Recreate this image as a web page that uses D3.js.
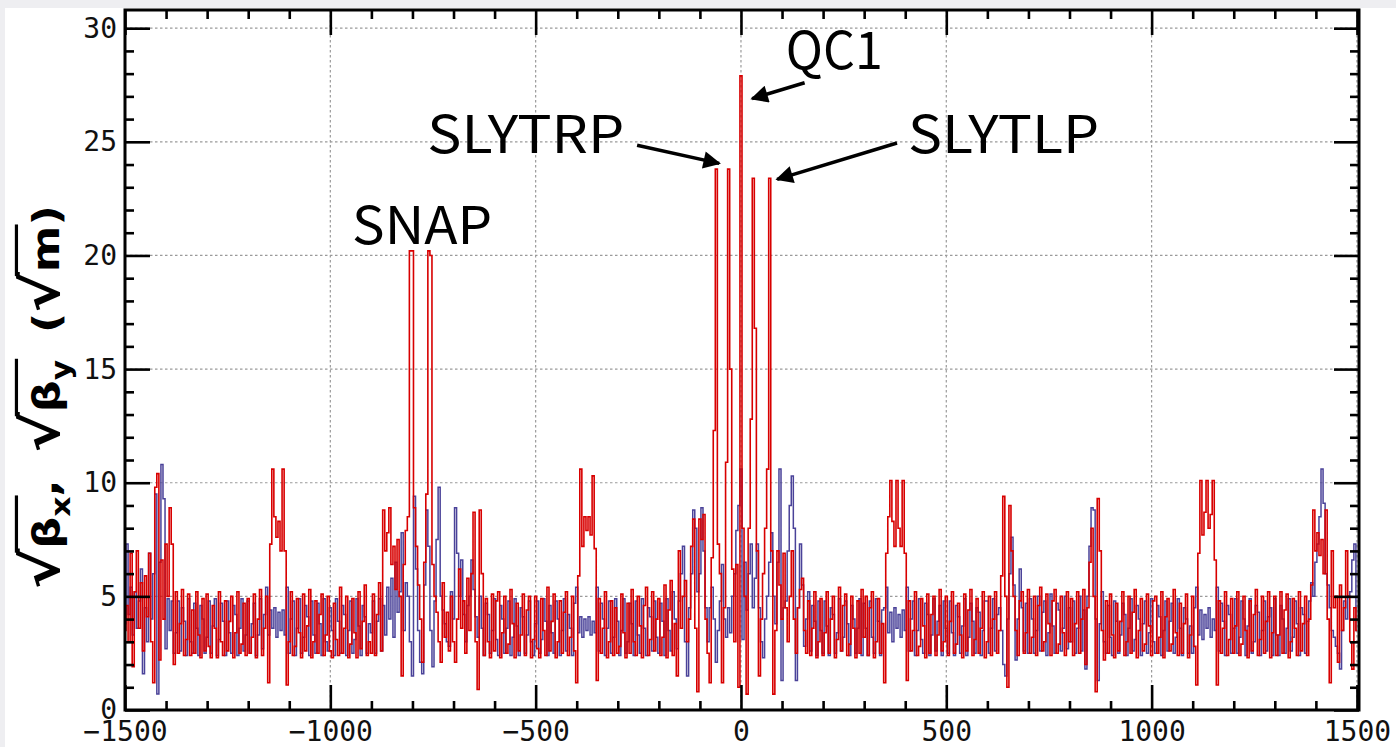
<!DOCTYPE html>
<html><head><meta charset="utf-8">
<script src="https://cdn.jsdelivr.net/npm/d3@7/dist/d3.min.js"></script>
<style>html,body{margin:0;padding:0;background:#fff;}svg{display:block;}</style>
</head><body>
<svg id="chart" width="1396" height="747"></svg>
<script>
// ---- data: sqrt(beta) sampled every 5 m from s = -1500 m to 1500 m ----
const sStart = -1500, sStep = 5;
const sqrtBetaY = [
 3.5,4.6,3.0,6.9,1.9,5.2,7.0,3.6,5.6,2.6,5.9,4.1,6.9,3.0,1.2,9.8,10.4,2.2,6.6,4.0,
 7.3,5.0,8.9,7.3,2.0,5.2,2.5,3.8,5.3,2.4,3.1,5.1,2.4,4.4,2.5,5.2,3.3,2.3,4.9,2.6,
 5.1,2.8,2.3,4.6,3.6,2.3,5.2,3.0,2.4,4.8,2.6,3.9,5.0,2.3,3.4,5.2,2.5,2.9,4.7,2.4,
 4.9,2.5,3.2,5.1,2.3,4.0,5.3,2.4,3.6,5.0,1.2,7.3,10.6,8.5,7.6,8.3,7.0,10.6,7.0,1.1,
 3.0,5.2,2.4,2.8,4.9,3.4,2.3,5.1,2.6,3.7,5.3,2.3,3.0,4.8,2.5,4.2,5.1,2.4,3.3,5.0,
 2.6,2.3,4.7,3.1,2.4,5.4,2.5,3.6,5.0,2.3,2.9,4.9,3.4,2.3,5.2,2.7,3.9,5.5,2.4,3.0,
 2.5,5.1,2.4,4.2,5.6,2.6,8.8,7.0,7.8,8.9,6.4,7.2,5.3,7.5,5.0,1.5,6.4,7.9,8.5,20.2,
 20.2,8.9,7.2,5.5,4.0,2.1,6.5,9.5,20.2,20.0,6.4,5.0,4.3,3.0,2.1,5.6,3.2,4.3,2.6,5.0,
 3.0,2.1,4.0,6.2,3.6,4.8,2.5,5.8,3.5,6.0,8.7,3.0,0.9,8.8,6.0,2.4,4.9,3.0,2.3,5.1,
 2.6,4.8,5.2,2.3,3.4,5.0,2.5,2.9,5.3,3.8,2.3,4.7,2.6,3.3,5.1,2.4,4.4,5.0,2.3,3.1,
 5.0,2.7,2.3,4.9,3.5,2.4,5.4,2.6,3.9,5.1,2.3,3.0,4.8,2.5,4.3,5.2,2.4,3.2,5.0,2.6,
 1.2,5.9,10.6,7.2,8.5,7.9,8.5,7.7,10.3,7.1,1.3,4.9,2.5,3.6,5.2,2.3,3.0,4.8,2.4,4.5,
 2.5,2.8,5.1,3.4,2.3,4.7,2.5,5.3,3.0,2.4,5.0,3.7,2.3,4.6,5.4,2.4,3.1,5.2,2.6,4.0,
 4.9,2.4,3.2,5.5,2.3,4.4,5.7,2.4,3.8,1.5,7.0,3.6,5.0,5.7,3.0,4.0,7.2,8.4,3.6,0.8,
 8.4,7.5,8.6,4.0,2.5,1.2,6.7,12.3,23.8,7.3,6.0,1.2,4.5,10.9,23.8,15.0,6.2,3.0,6.4,1.0,
 27.9,8.0,5.0,0.7,8.0,12.8,23.4,16.8,7.0,1.5,4.0,6.0,8.0,10.6,23.4,7.0,0.7,3.5,7.0,5.5,
 4.0,6.9,4.5,3.0,5.0,7.0,4.0,2.5,4.5,5.3,5.8,3.5,2.5,4.8,2.4,3.6,5.2,2.3,3.0,4.9,
 2.4,3.4,5.2,2.5,4.0,5.0,2.3,3.1,5.4,2.6,4.6,5.1,2.4,2.9,5.0,3.6,2.3,4.8,2.5,5.3,
 3.2,5.0,2.4,4.5,5.2,2.3,3.0,4.9,2.5,3.8,1.2,6.9,8.5,10.1,8.3,7.2,10.1,8.0,7.2,10.1,
 6.9,1.3,4.8,2.6,3.5,5.2,2.4,2.8,4.9,3.7,2.3,5.1,2.5,4.2,5.0,2.4,3.3,5.3,2.6,3.0,
 5.0,2.4,3.9,5.2,2.5,2.9,4.7,3.3,2.3,5.1,2.6,4.4,5.3,2.4,3.1,4.9,2.5,3.6,5.2,2.3,
 3.0,5.0,2.4,4.0,5.2,2.5,3.5,5.9,9.4,5.0,1.0,9.0,7.0,5.0,3.5,2.4,4.8,5.2,2.5,3.4,
 5.3,2.5,3.2,5.0,2.4,4.6,5.4,2.6,3.0,5.1,3.8,2.4,4.8,5.3,2.5,2.9,5.0,3.4,2.4,5.2,
 3.0,4.9,2.4,3.8,5.2,2.5,4.0,5.3,2.0,4.5,6.5,8.0,5.0,0.8,9.3,7.0,3.5,2.2,4.8,2.5,
 5.1,3.3,2.3,4.7,2.6,3.9,5.2,2.4,3.0,5.0,2.5,4.3,5.3,2.3,3.5,4.9,2.6,2.9,5.1,3.7,
 2.4,4.8,5.0,2.5,3.2,5.2,2.3,4.1,4.9,2.6,2.9,5.3,3.4,2.4,4.7,2.5,3.8,5.1,2.3,3.3,
 5.0,2.8,1.1,6.9,10.1,7.7,8.7,10.1,8.0,8.6,10.1,6.6,1.1,4.8,2.5,3.6,5.2,2.4,3.1,4.9,
 2.5,3.7,5.2,2.4,2.9,5.0,3.5,2.3,4.8,2.6,4.2,5.3,2.4,3.1,5.0,2.5,3.9,5.2,2.3,3.4,
 5.0,2.4,3.3,5.2,2.5,4.4,5.1,2.3,3.0,4.9,3.6,2.4,5.2,2.6,3.8,5.0,2.4,4.0,5.5,8.8,
 7.0,7.8,6.8,7.5,6.0,8.8,4.0,1.2,7.0,4.5,5.0,2.1,5.5,3.5,4.5,7.0,5.0,3.0,1.8,4.5,
 3.5
];
const sqrtBetaX = [
 3.8,7.3,4.2,5.4,3.3,5.2,3.6,4.8,6.2,1.6,4.5,3.0,6.9,4.0,6.0,9.5,0.7,6.5,10.8,9.3,
 2.7,4.9,3.5,4.8,2.5,3.4,4.8,2.6,4.5,3.9,2.4,4.9,3.0,2.5,4.7,3.6,2.4,4.6,4.0,2.5,
 3.2,4.8,2.5,3.7,4.9,2.4,3.1,4.7,3.9,2.4,4.8,3.4,2.5,4.6,4.2,2.4,3.6,4.9,2.6,3.3,
 4.8,2.5,3.8,4.7,2.4,3.3,4.9,2.7,4.2,5.4,3.3,4.4,3.6,4.5,3.2,4.3,3.5,4.4,3.3,5.4,
 2.5,4.0,4.8,2.4,3.6,4.9,2.5,3.2,4.6,4.1,2.4,4.8,3.3,2.5,4.7,3.8,2.4,4.9,3.0,2.6,
 4.5,3.5,2.4,4.9,3.9,2.5,4.6,4.2,2.4,3.5,4.8,2.5,3.1,4.9,3.7,2.4,4.6,4.1,2.5,3.8,
 3.4,4.8,2.5,3.9,4.9,2.6,4.6,3.3,5.4,4.0,5.8,3.2,6.5,4.3,5.2,7.8,3.5,5.6,5.0,3.0,
 1.5,9.4,6.2,3.5,2.1,1.6,5.5,8.8,7.2,3.5,1.9,4.8,7.5,9.8,5.0,4.4,3.8,3.0,2.8,5.2,
 4.0,8.9,6.9,5.0,6.6,4.2,3.0,4.6,5.0,6.6,5.3,4.1,3.2,5.0,3.6,2.4,4.7,4.2,2.5,3.5,
 4.9,3.1,2.4,4.6,4.0,2.5,3.6,4.8,2.4,3.2,4.9,3.7,2.4,4.5,4.1,2.5,3.3,4.8,3.0,2.4,
 3.8,4.8,2.5,3.1,4.9,3.9,2.4,4.6,3.4,2.5,4.8,4.0,2.4,3.5,4.9,2.6,4.2,3.6,2.4,4.7,
 5.4,3.4,4.1,3.2,4.0,3.5,4.1,3.3,3.9,3.4,5.4,2.6,4.7,4.0,2.4,3.6,4.8,2.5,3.2,4.9,
 3.9,2.4,3.5,4.9,2.5,3.0,4.7,3.8,2.4,4.8,3.3,2.5,4.9,3.6,2.4,4.5,4.1,2.6,4.8,3.2,
 2.5,4.7,3.9,2.4,4.9,3.5,2.6,5.2,4.0,2.7,4.8,6.0,7.2,3.0,1.5,4.5,6.0,8.8,8.0,5.2,
 6.0,8.9,7.0,4.5,3.0,4.5,5.4,4.0,2.1,3.5,4.8,6.4,4.0,3.2,4.5,3.4,5.0,6.0,7.9,9.0,
 10.6,3.1,6.5,4.4,6.0,7.3,4.5,5.8,7.3,4.5,3.0,2.3,4.0,5.0,6.5,7.8,5.0,3.8,6.5,10.6,
 1.3,4.5,4.8,7.0,9.0,10.3,8.0,1.3,4.5,7.3,5.5,2.8,4.0,5.2,2.6,4.6,3.9,2.4,4.8,3.5,
 2.5,4.8,3.7,2.4,4.5,4.2,2.5,3.4,4.9,2.6,3.2,4.8,3.8,2.4,4.6,4.0,2.5,3.6,4.9,2.4,
 4.7,3.6,2.4,4.8,3.2,2.5,4.9,3.9,2.4,4.4,4.5,5.4,3.4,4.3,3.0,4.5,3.6,4.2,3.2,4.4,
 3.5,5.4,2.6,4.0,4.8,2.4,3.5,4.9,3.1,2.5,4.7,4.2,2.4,3.3,4.9,2.6,3.9,4.6,2.4,4.8,
 3.6,2.5,4.8,3.4,2.4,4.6,4.1,2.5,3.7,4.9,2.4,3.2,4.7,3.9,2.5,4.5,4.3,2.4,3.5,4.8,
 4.8,2.5,3.6,4.9,2.6,4.2,4.5,3.5,2.0,1.5,4.0,6.0,7.6,5.5,2.2,4.0,6.2,4.5,2.6,4.7,
 2.5,4.9,4.0,2.5,3.5,5.0,2.6,4.3,4.8,2.4,3.4,5.1,3.7,2.5,4.7,4.4,2.6,3.6,5.0,2.7,
 4.5,3.0,4.8,2.5,3.6,5.0,2.6,4.4,1.8,5.0,7.2,8.9,8.8,4.0,1.3,3.8,5.2,3.0,2.5,4.6,
 3.2,2.4,4.8,3.9,2.5,3.3,4.7,4.2,2.4,3.6,4.9,2.6,3.1,4.6,4.0,2.4,3.8,4.8,2.5,3.4,
 4.9,3.0,2.5,4.6,4.1,2.4,3.5,4.8,2.6,3.9,4.7,2.5,3.2,4.9,3.6,2.4,4.5,4.0,2.5,3.7,
 2.5,4.5,5.4,3.3,4.4,3.1,4.2,3.6,4.5,3.2,4.0,3.5,5.4,2.6,4.7,3.9,2.4,4.6,4.2,2.5,
 3.6,4.9,2.5,3.2,4.8,4.0,2.4,3.7,4.9,2.5,3.0,4.6,4.3,2.4,3.5,4.8,2.6,4.1,4.5,2.4,
 4.9,3.3,2.4,4.6,4.0,2.5,3.6,4.9,2.6,3.2,4.8,3.8,2.4,4.5,4.2,2.5,3.9,4.8,5.6,5.0,
 6.5,7.3,8.5,10.6,9.1,6.0,5.5,4.5,3.5,3.2,2.8,2.5,1.8,3.5,4.8,4.0,5.0,5.2,6.6,7.3,
 3.5
];
const xMajorTicks = [-1500, -1000, -500, 0, 500, 1000, 1500];
const yMajorTicks = [0, 5, 10, 15, 20, 25, 30];
const xMinorTicks = [-1400,-1300,-1200,-1100,-900,-800,-700,-600,-400,-300,-200,-100,100,200,300,400,600,700,800,900,1100,1200,1300,1400];
const yMinorTicks = [1,2,3,4,6,7,8,9,11,12,13,14,16,17,18,19,21,22,23,24,26,27,28,29];
// annotations: label at (s, value) with its drawn width; arrows from (s0,v0) to (s1,v1)
const labels = [
  {text: "QC1",    s: 109,   v: 28.2, w: 97},
  {text: "SLYTRP", s: -764,  v: 24.5, w: 197},
  {text: "SLYTLP", s: 407,   v: 24.5, w: 191},
  {text: "SNAP",   s: -947,  v: 20.5, w: 140}
];
const arrows = [
  {s0: 155,  v0: 27.6, s1: 27,  v1: 26.9},
  {s0: -253, v0: 24.85, s1: -53, v1: 24.05},
  {s0: 380,  v0: 24.95, s1: 88,  v1: 23.35}
];

// ---- layout ----
const svg = d3.select("#chart");
const L = 125, R = 1359, T = 10, B = 710;
const x = d3.scaleLinear().domain([-1500, 1505]).range([L, R]);
const y = d3.scaleLinear().domain([0, 30.8]).range([B, T]);

svg.append("rect").attr("width",1396).attr("height",747).attr("fill","#eeeef1");
svg.append("rect").attr("x",5).attr("y",8).attr("width",1391).attr("height",739).attr("fill","#fff");

svg.append("defs").append("clipPath").attr("id","clip")
  .append("rect").attr("x",L).attr("y",T).attr("width",R-L).attr("height",B-T);

// grid
const grid = svg.append("g").attr("stroke","#9a9a9a").attr("stroke-width",1.2).attr("stroke-dasharray","2.5,2.5");
grid.selectAll("line.gx").data(xMajorTicks).join("line").attr("class","gx")
  .attr("x1",d=>x(d)).attr("x2",d=>x(d)).attr("y1",T).attr("y2",B);
grid.selectAll("line.gy").data(yMajorTicks.filter(d=>d>0)).join("line").attr("class","gy")
  .attr("x1",L).attr("x2",R).attr("y1",d=>y(d)).attr("y2",d=>y(d));

// series
const line = d3.line().x((d,i)=>x(sStart + i*sStep)).y(d=>y(d)).curve(d3.curveStep);
const plot = svg.append("g").attr("clip-path","url(#clip)");
plot.append("path").datum(sqrtBetaX).attr("d",line).attr("fill","none")
  .attr("stroke","#4a4299").attr("stroke-width",1.5);
plot.append("path").datum(sqrtBetaY).attr("d",line).attr("fill","none")
  .attr("stroke","#d80000").attr("stroke-width",1.6);

// axes (inward ticks)
function styleAxis(g){ g.select(".domain").remove(); g.selectAll(".tick line").attr("stroke","#000").attr("stroke-width",2.6); }
const fontMono = "'DejaVu Sans Mono', monospace";
svg.append("g").attr("transform",`translate(0,${B})`)
  .call(d3.axisBottom(x).tickValues(xMajorTicks).tickSize(-25).tickPadding(11).tickFormat(d3.format("d")))
  .call(styleAxis).call(g=>g.selectAll("text").attr("font-family",fontMono).attr("font-size",28).attr("fill","#111"));
svg.append("g").attr("transform",`translate(0,${B})`)
  .call(d3.axisBottom(x).tickValues(xMinorTicks).tickSize(-9).tickFormat("")).call(styleAxis);
svg.append("g").attr("transform",`translate(0,${T})`)
  .call(d3.axisTop(x).tickValues(xMajorTicks).tickSize(-25).tickFormat("")).call(styleAxis);
svg.append("g").attr("transform",`translate(0,${T})`)
  .call(d3.axisTop(x).tickValues(xMinorTicks).tickSize(-9).tickFormat("")).call(styleAxis);
svg.append("g").attr("transform",`translate(${L},0)`)
  .call(d3.axisLeft(y).tickValues(yMajorTicks).tickSize(-25).tickPadding(8).tickFormat(d3.format("d")))
  .call(styleAxis).call(g=>g.selectAll("text").attr("font-family",fontMono).attr("font-size",28).attr("fill","#111"));
svg.append("g").attr("transform",`translate(${L},0)`)
  .call(d3.axisLeft(y).tickValues(yMinorTicks).tickSize(-9).tickFormat("")).call(styleAxis);
svg.append("g").attr("transform",`translate(${R},0)`)
  .call(d3.axisRight(y).tickValues(yMajorTicks).tickSize(-25).tickFormat("")).call(styleAxis);
svg.append("g").attr("transform",`translate(${R},0)`)
  .call(d3.axisRight(y).tickValues(yMinorTicks).tickSize(-9).tickFormat("")).call(styleAxis);

// frame
svg.append("rect").attr("x",L).attr("y",T).attr("width",R-L).attr("height",B-T)
  .attr("fill","none").attr("stroke","#000").attr("stroke-width",3);

// y title
const fs = 38;
const tg = svg.append("g").attr("transform","translate(59,397) rotate(-90)");
const tt = tg.append("text").attr("text-anchor","middle").attr("font-family","'DejaVu Sans', sans-serif")
  .attr("font-weight","bold").attr("font-size",fs).attr("fill","#000")
  .attr("textLength",384).attr("lengthAdjust","spacingAndGlyphs");
const parts = [
  {t:"√", big:true},{t:"β", ol:1},{t:"x", sub:true, ol:1},{t:",", back:true},
  {t:"√", big:true, gap:true},{t:"β", ol:2},{t:"y", sub:true, ol:2},{t:"(", back:true, gap:true},
  {t:"√", big:true},{t:"m", ol:3},{t:")"}
];
const spans = parts.map(p=>{
  const sp = tt.append("tspan").text(p.t);
  if(p.sub) sp.attr("font-size",fs*0.7).attr("dy",fs*0.3);
  if(p.back) sp.attr("dy",-fs*0.3);
  if(p.big) sp.attr("font-size",fs*1.35);
  if(p.gap) sp.attr("dx",fs*0.6);
  return {p, node: sp.node()};
});
// overlines for the radicals
[1,2,3].forEach(k=>{
  const sel = spans.filter(d=>d.p.ol===k);
  const first = sel[0].node, last = sel[sel.length-1].node;
  const x0 = first.getStartPositionOfChar(0).x - 4;
  const x1 = last.getEndPositionOfChar(last.getNumberOfChars()-1).x + 1;
  tg.append("line").attr("x1",x0).attr("x2",x1).attr("y1",-fs*1.12).attr("y2",-fs*1.12)
    .attr("stroke","#000").attr("stroke-width",3.2);
});

// annotations
const ann = svg.append("g").attr("font-family","'Noto Sans CJK JP','Noto Sans',sans-serif")
  .attr("font-size",52).attr("fill","#000");
ann.selectAll("text").data(labels).join("text")
  .attr("x",d=>x(d.s)).attr("y",d=>y(d.v)).attr("textLength",d=>d.w)
  .attr("lengthAdjust","spacingAndGlyphs").text(d=>d.text);
svg.select("defs").append("marker").attr("id","ah").attr("viewBox","0 0 10 10")
  .attr("refX",9).attr("refY",5).attr("markerWidth",6).attr("markerHeight",5)
  .attr("orient","auto").attr("markerUnits","strokeWidth")
  .append("path").attr("d","M0,0L10,5L0,10z").attr("fill","#000");
svg.append("g").selectAll("line").data(arrows).join("line")
  .attr("x1",d=>x(d.s0)).attr("y1",d=>y(d.v0)).attr("x2",d=>x(d.s1)).attr("y2",d=>y(d.v1))
  .attr("stroke","#000").attr("stroke-width",3.5).attr("marker-end","url(#ah)");
</script>
</body></html>
